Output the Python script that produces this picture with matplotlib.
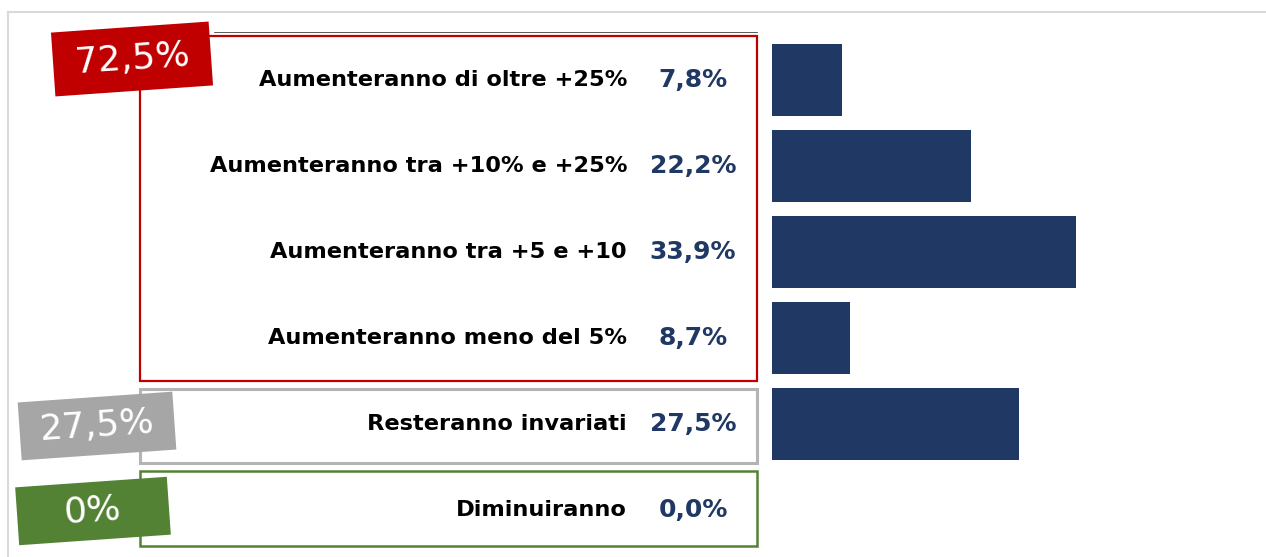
import matplotlib
matplotlib.use('Agg')
import matplotlib.pyplot as plt
from matplotlib.patches import Rectangle
from matplotlib.transforms import blended_transform_factory

# data
CATEGORIES = [
    "Aumenteranno di oltre +25%",
    "Aumenteranno tra +10% e +25%",
    "Aumenteranno tra +5 e +10",
    "Aumenteranno meno del 5%",
    "Resteranno invariati",
    "Diminuiranno",
]
VALUES = [7.8, 22.2, 33.9, 8.7, 27.5, 0.0]
GROUP_LABELS = ["72,5%", "27,5%", "0%"]

NAVY = "#203864"
RED = "#c00000"
GREY = "#a6a6a6"
GREEN = "#548235"

W, H = 1266, 557
fig = plt.figure(figsize=(W / 100, H / 100), dpi=100)

# overlay axes in pixel coordinates for decoration
ax0 = fig.add_axes([0, 0, 1, 1])
ax0.set_xlim(0, W)
ax0.set_ylim(H, 0)
ax0.axis('off')

# bar axes: 1% = ~8.97 px, rows of 86 px
px_per_pct = 8.97
ax = fig.add_axes([772 / W, 4 / H, (W - 772) / W, 516 / H])
ax.set_xlim(0, (W - 772) / px_per_pct)
ax.set_ylim(len(CATEGORIES) - 0.5, -0.5)
ax.axis('off')
ypos = list(range(len(CATEGORIES)))
ax.barh(ypos, VALUES, height=72 / 86, color=NAVY, zorder=2)

# outer light frame
ax0.plot([8, W], [12, 12], color="#d9d9d9", lw=1.5)
ax0.plot([8, 8], [12, H], color="#d9d9d9", lw=1.5)

# texts: x in pixels, y from bar axes
tr = blended_transform_factory(ax0.transData, ax.transData)
for i, (cat, v) in enumerate(zip(CATEGORIES, VALUES)):
    ax0.text(627, i, cat, transform=tr, ha='right', va='center',
             fontsize=16.2, fontweight='bold', color="black")
    ax0.text(693, i, f"{v:.1f}%".replace(".", ","), transform=tr,
             ha='center', va='center', fontsize=18, fontweight='bold',
             color=NAVY)

# group boxes
boxes = [
    ((140, 36), 617, 345, RED, 1.6),
    ((140, 389), 617, 74, "#b4b4b4", 2.2),
    ((140, 471), 617, 75, GREEN, 1.8),
]
for (x, y), w, h, c, lw in boxes:
    ax0.add_patch(Rectangle((x, y), w, h, fill=False, edgecolor=c,
                            lw=lw, zorder=1))
ax0.plot([214, 757], [32, 32], color="#404040", lw=0.6, zorder=1)

# tilted group labels
tags = [
    ((132, 59), 158, 64, RED),
    ((97, 426), 155, 58, GREY),
    ((93, 511), 152, 58, GREEN),
]
for ((cx, cy), w, h, c), lab in zip(tags, GROUP_LABELS):
    ax0.add_patch(Rectangle((cx - w / 2, cy - h / 2), w, h, angle=-4,
                            rotation_point='center', facecolor=c,
                            edgecolor='none', zorder=3))
    ax0.text(cx, cy, lab, ha='center', va='center', rotation=4,
             fontsize=26, color="white", zorder=4)

fig.savefig("out.png", dpi=100)
